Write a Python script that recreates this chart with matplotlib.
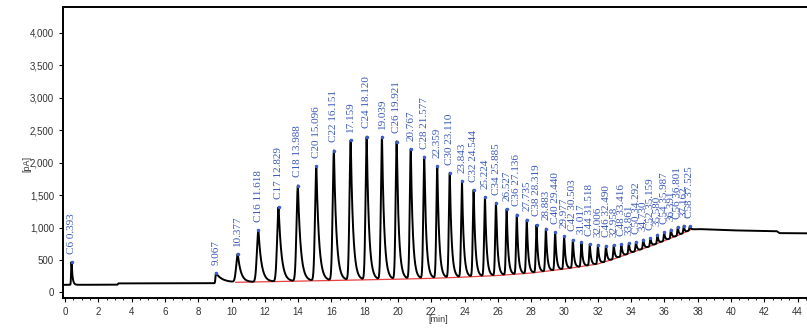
import numpy as np
import matplotlib
matplotlib.use("Agg")
from matplotlib import pyplot as plt
from matplotlib.ticker import MultipleLocator, FuncFormatter

# --- peak table (retention time [min], apex signal [pA], name) ---
peak_times = [0.393, 9.067, 10.377, 11.618, 12.829, 13.988, 15.096, 16.151, 17.159,
              18.120, 19.039, 19.921, 20.767, 21.577, 22.359, 23.110, 23.843, 24.544,
              25.224, 25.885, 26.527, 27.136, 27.735, 28.319, 28.883, 29.440, 29.977,
              30.503, 31.017, 31.518, 32.006, 32.490, 32.958, 33.416, 33.861, 34.292,
              34.730, 35.159, 35.580, 35.987, 36.391, 36.801, 37.162, 37.525]
peak_heights = [470, 300, 590, 960, 1315, 1648, 1946, 2188, 2347,
                2400, 2393, 2327, 2214, 2090, 1946, 1844, 1715, 1582,
                1470, 1381, 1289, 1199, 1123, 1043, 985, 928, 867,
                812, 775, 745, 730, 720, 730, 745, 755, 780,
                815, 840, 890, 930, 970, 1010, 1030, 1020]
peak_names = ["C6", "", "", "C16", "C17", "C18", "C20", "C22", "",
              "C24", "", "C26", "", "C28", "", "C30", "", "C32",
              "", "C34", "", "C36", "", "C38", "", "C40", "",
              "C42", "", "C44", "", "C46", "", "C48", "", "C50",
              "", "C52", "", "C54", "", "C56", "", "C58"]

# --- detector baseline (drift) anchor points ---
base_t = [0.0, 3.15, 3.2, 9.0, 10.3, 12, 14, 16, 18, 20, 22, 24, 26, 28, 30, 32,
          33, 34, 35, 36, 37, 37.6, 38, 40, 42.75, 42.9, 44.6]
base_y = [118, 120, 140, 142, 157, 165, 175, 185, 195, 205, 218, 238, 262, 300, 362, 439,
          520, 613, 700, 798, 900, 970, 978, 958, 945, 915, 912]

# integration baseline (red) from first to last peak
red_t = [10.25, 12, 14, 16, 18, 20, 22, 24, 26, 28, 30, 32, 33, 34, 35, 36, 37, 37.6]
red_y = [157, 165, 175, 185, 195, 205, 218, 238, 262, 300, 362, 439, 520, 613, 700, 798, 900, 970]

# --- build trace ---
t = np.arange(0, 44.6, 0.004)
signal = np.interp(t, base_t, base_y)
pt = np.array(peak_times)
for i, (t0, h) in enumerate(zip(peak_times, peak_heights)):
    gap = pt[i + 1] - t0 if i + 1 < len(pt) else 0.4
    gap = min(gap, 1.25)
    tau = 0.15 * gap
    sig = max(0.075 * gap, 0.03)
    if i == 0:
        tau, sig = 0.06, 0.025
    if i == 1:
        tau, sig = 0.4, 0.03
    amp = h - np.interp(t0, base_t, base_y)
    shape = np.where(t < t0, np.exp(-0.5 * ((t - t0) / sig) ** 2),
                     np.exp(-np.clip(t - t0, 0, None) / tau))
    signal += amp * shape

fig = plt.figure(figsize=(8.07, 3.29), dpi=100)
ax = fig.add_axes([63 / 807, 31 / 329, 1 - 63 / 807, 291 / 329])

ax.plot(red_t, red_y, color="#e84040", lw=0.9, zorder=2)
ax.plot(t, signal, color="black", lw=1.4, zorder=3)
ax.plot(peak_times, peak_heights, "o", ms=1.5, color="#3f5fc8", zorder=4)

for t0, h, name in zip(peak_times, peak_heights, peak_names):
    txt = f"{name} {t0:.3f}" if name else f"{t0:.3f}"
    ax.annotate(txt, (t0, h), xytext=(0, 6), textcoords="offset points",
                rotation=90, ha="center", va="bottom", fontsize=8,
                family="Liberation Serif", color="#3a58b8")

ax.set_xlim(-0.12, 44.56)
ax.set_ylim(-85, 4400)
ax.xaxis.set_major_locator(MultipleLocator(2))
ax.xaxis.set_minor_locator(MultipleLocator(0.5))
ax.yaxis.set_major_locator(MultipleLocator(500))
ax.yaxis.set_major_formatter(FuncFormatter(lambda v, p: f"{int(v):,}"))
ax.tick_params(axis="both", labelsize=7, labelcolor="#333333", length=3, width=0.8)
ax.tick_params(axis="x", which="minor", length=1.5, width=0.6)
for lab in ax.get_xticklabels() + ax.get_yticklabels():
    lab.set_family("Liberation Sans")

for side in ["left", "bottom", "top"]:
    ax.spines[side].set_linewidth(1.4)
ax.spines["right"].set_visible(False)

fig.text(27 / 807, 1 - 164 / 329, "[pA]", rotation=90, ha="center", va="center",
         fontsize=6.5, family="Liberation Sans", color="#333333")
fig.text(438 / 807, 1 - 319 / 329, "[min]", ha="center", va="center",
         fontsize=6.5, family="Liberation Sans", color="#333333")

fig.savefig("out.png", dpi=100)
